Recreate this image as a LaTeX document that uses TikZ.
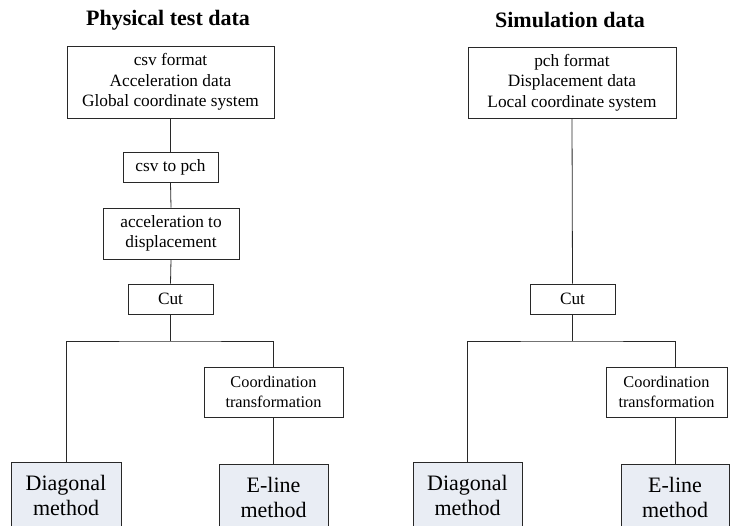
\documentclass[tikz,border=0pt]{standalone}
\usepackage{fontspec}
\setmainfont{Liberation Serif}
\definecolor{methodfill}{RGB}{233,237,244}
\definecolor{linegray}{RGB}{40,40,40}
\tikzset{
  x=1pt, y=-1pt,
  box/.style={draw=linegray, line width=0.8pt, fill=white, inner sep=0pt, align=center,
     font=\fontsize{17.3}{20.5}\selectfont},
  smallbox/.style={box, font=\fontsize{16.3}{20}\selectfont},
  methodbox/.style={draw=linegray, line width=0.8pt, fill=methodfill, inner sep=0pt, align=center,
     font=\fontsize{22}{25}\selectfont},
  titletext/.style={font=\fontsize{22}{26}\selectfont\bfseries, inner sep=0pt},
  conn/.style={draw=linegray, line width=0.8pt}
}
\begin{document}
\begin{tikzpicture}
\useasboundingbox (0,0) rectangle (733,525);
\clip (0,0) rectangle (733,525);
\fill[white] (0,0) rectangle (733,525);

% ---------- left column ----------
\node[titletext] (t1) at (168,20) {Physical test data};
\node[box, minimum width=207, minimum height=72] (top1) at (170.5,82) {csv format\\Acceleration data\\Global coordinate system};
\node[box, minimum width=95, minimum height=30] (csv) at (170.5,167) {csv to pch};
\node[box, minimum width=136, minimum height=51] (acc) at (171,233.5) {acceleration to\\displacement};
\node[box, minimum width=85, minimum height=30] (cut1) at (170.5,299) {Cut};
\coordinate (j1) at (170.5,341);
\node[smallbox, minimum width=139, minimum height=50] (co1) at (273.5,392) {Coordination\\transformation};
\node[methodbox, minimum width=110, minimum height=66] (dg1) at (66,495) {Diagonal\\method};
\node[methodbox, minimum width=109, minimum height=66] (el1) at (273.5,497) {E-line\\method};

\draw[conn] (top1.south) -- (csv.north);
\draw[conn] (csv.south) -- (acc.north);
\draw[conn] (acc.south) -- (cut1.north);
\draw[conn] (cut1.south) -- (j1);
\draw[conn] (dg1.north) |- (j1) -| (co1.north);
\draw[conn] (co1.south) -- (el1.north);

% ---------- right column ----------
\node[titletext] (t2) at (570,20) {Simulation data};
\node[box, minimum width=208, minimum height=71] (top2) at (572,82.5) {pch format\\Displacement data\\Local coordinate system};
\node[box, minimum width=85, minimum height=30] (cut2) at (572.5,299) {Cut};
\coordinate (j2) at (572.5,341);
\node[smallbox, minimum width=121, minimum height=50] (co2) at (666.5,392) {Coordination\\transformation};
\node[methodbox, minimum width=109, minimum height=66] (dg2) at (467.5,495) {Diagonal\\method};
\node[methodbox, minimum width=108, minimum height=66] (el2) at (675,497) {E-line\\method};

\draw[conn] (top2.south) -- (cut2.north);
\draw[conn] (cut2.south) -- (j2);
\draw[conn] (dg2.north) |- (j2) -| (el2.north |- co2.north);
\draw[conn] (el2.north |- co2.south) -- (el2.north);
\end{tikzpicture}
\end{document}
